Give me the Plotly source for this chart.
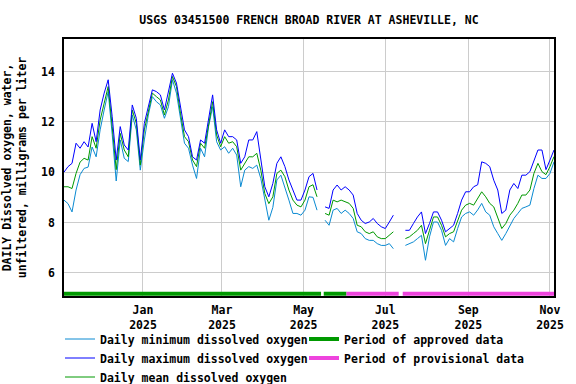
import plotly.graph_objects as go
import pandas as pd

# ---- data (every 3rd day) ----
dates = pd.date_range("2024-11-03", periods=123, freq="3D")

do_max = [10.0, 10.22, 10.35, 11.15, 10.95, 11.21, 11.0, 11.94, 11.21, 12.47,
          13.14, 13.67, 12.2, 10.48, 11.81, 11.08, 10.88, 12.67, 12.14, 10.48,
          11.94, 12.67, 13.27, 13.2, 13.07, 12.47, 13.14, 13.93, 13.54, 12.6,
          11.68, 11.41, 10.61, 10.48, 11.28, 11.15, 12.2, 13.07, 11.68, 11.15,
          11.68, 11.41, 11.41, 11.28, 10.35, 10.61, 11.28, 11.28, 11.61, 10.61,
          9.42, 9.02, 9.55, 10.35, 10.61, 10.22, 9.69, 9.29, 8.89, 8.89,
          9.29, 9.82, 9.95, 9.29, None, 8.62, 8.56, 9.29, 9.49, 9.29,
          9.42, 9.29, 9.09, 8.36, 8.09, 7.96, 8.02, 8.16, 7.96, 7.83,
          7.76, 8.02, 8.29, None, None, 7.69, 7.69, 7.96, 8.22, 8.42,
          7.56, 7.96, 8.42, 8.42, 8.09, 7.63, 7.76, 7.89, 8.36, 8.89,
          9.22, 9.22, 9.42, 9.5, 10.41, 10.35, 10.22, 9.68, 9.29, 8.36,
          8.49, 9.29, 9.55, 9.35, 9.88, 9.88, 10.02, 10.48, 10.88, 10.88,
          10.1, 10.48, 10.88]

do_mean = [9.42, 9.42, 9.35, 9.95, 10.4, 10.55, 10.48, 11.41, 10.95, 12.07,
           12.74, 13.4, 11.81, 10.1, 11.54, 10.88, 10.61, 12.47, 11.94, 10.28,
           11.68, 12.47, 13.14, 13.0, 12.87, 12.27, 12.87, 13.8, 13.4, 12.34,
           11.41, 11.21, 10.48, 10.22, 11.15, 10.95, 11.94, 12.8, 11.48, 11.01,
           11.41, 11.15, 11.21, 11.01, 10.08, 10.35, 10.61, 10.61, 10.75, 10.08,
           9.15, 8.75, 9.02, 9.95, 10.08, 9.82, 9.29, 8.89, 8.69, 8.62,
           8.89, 9.42, 9.5, 9.02, None, 8.36, 8.29, 8.89, 8.82, 8.89,
           8.82, 8.76, 8.56, 7.89, 7.83, 7.63, 7.56, 7.63, 7.43, 7.36,
           7.36, 7.49, 7.63, None, None, 7.36, 7.43, 7.56, 7.69, 7.89,
           7.16, 7.69, 8.22, 8.22, 7.89, 7.43, 7.56, 7.63, 8.09, 8.49,
           8.69, 8.76, 8.69, 8.95, 9.22, 9.02, 8.76, 8.62, 8.22, 7.76,
           7.96, 8.29, 8.49, 8.76, 9.09, 9.09, 9.29, 9.95, 10.35, 10.02,
           9.9, 10.22, 10.62]

do_min = [8.89, 8.75, 8.42, 9.29, 9.9, 10.15, 10.2, 11.0, 10.61, 11.68,
          12.47, 13.2, 11.5, 9.65, 11.28, 10.55, 10.42, 12.27, 11.68, 10.08,
          11.28, 12.27, 13.0, 12.8, 12.67, 12.14, 12.6, 13.67, 13.14, 12.07,
          11.15, 10.95, 10.28, 9.75, 10.95, 10.61, 11.81, 12.6, 11.21, 10.88,
          11.01, 10.75, 10.95, 10.68, 9.42, 10.08, 10.22, 10.15, 10.28, 9.75,
          8.89, 8.09, 8.6, 9.69, 9.88, 9.42, 8.89, 8.36, 8.36, 8.29,
          8.49, 9.02, 9.0, 8.49, None, 8.09, 7.89, 8.49, 8.56, 8.36,
          8.49, 8.36, 8.16, 7.63, 7.56, 7.36, 7.29, 7.29, 7.16, 7.09,
          7.09, 7.16, 6.96, None, None, 7.09, 7.16, 7.23, 7.36, 7.49,
          6.5, 7.43, 8.02, 8.02, 7.69, 7.09, 7.36, 7.23, 7.76, 8.22,
          8.36, 8.42, 8.29, 8.5, 8.76, 8.42, 8.29, 7.83, 7.56, 7.29,
          7.56, 7.89, 8.16, 8.36, 8.56, 8.62, 8.69, 9.35, 9.88, 9.75,
          9.75, 9.95, 10.41]

approved_dates = ["2024-11-03", "2025-05-14", None, "2025-05-16", "2025-06-02"]
provisional_dates = ["2025-06-02", "2025-07-11", None, "2025-07-14", "2025-11-04"]

tick_dates = ["2025-01-01", "2025-03-01", "2025-05-01", "2025-07-01",
              "2025-09-01", "2025-11-01"]
tick_text = ["Jan<br>2025", "Mar<br>2025", "May<br>2025", "Jul<br>2025",
             "Sep<br>2025", "Nov<br>2025"]
y_ticks = [6, 8, 10, 12, 14]

# ---- styling ----
FONT = "DejaVu Sans Mono"
FS = 11.5
C_MIN = "#0a8ad2"
C_MAX = "#0000ff"
C_MEAN = "#009900"
C_APP = "#009900"
C_PROV = "#ee44dd"
BAR_Y = 5.17
LFONT = dict(family=FONT, size=FS, color="black", weight="bold")

fig = go.Figure()

fig.add_trace(go.Scatter(x=approved_dates, y=[BAR_Y if d else None for d in approved_dates],
                         mode="lines", line=dict(color=C_APP, width=4),
                         name="Period of approved data", legend="legend2", legendrank=1))
fig.add_trace(go.Scatter(x=provisional_dates, y=[BAR_Y if d else None for d in provisional_dates],
                         mode="lines", line=dict(color=C_PROV, width=4),
                         name="Period of provisional data", legend="legend2", legendrank=2))
fig.add_trace(go.Scatter(x=dates, y=do_min, mode="lines",
                         line=dict(color=C_MIN, width=1),
                         name="Daily minimum dissolved oxygen", legendrank=1))
fig.add_trace(go.Scatter(x=dates, y=do_mean, mode="lines",
                         line=dict(color=C_MEAN, width=1),
                         name="Daily mean dissolved oxygen", legendrank=3))
fig.add_trace(go.Scatter(x=dates, y=do_max, mode="lines",
                         line=dict(color=C_MAX, width=1),
                         name="Daily maximum dissolved oxygen", legendrank=2))

fig.update_layout(
    width=576, height=384,
    margin=dict(l=64, r=22, t=39, b=88, autoexpand=False),
    paper_bgcolor="white", plot_bgcolor="white",
    font=dict(family=FONT, size=FS, color="black", weight="bold"),
    title=dict(text="USGS 03451500 FRENCH BROAD RIVER AT ASHEVILLE, NC",
               x=0.5, xref="paper", xanchor="center",
               y=1 - 20 / 384, yref="container", yanchor="middle",
               font=LFONT),
    showlegend=True,
    legend=dict(orientation="v", x=(60 - 64) / 490, xanchor="left", xref="paper",
                y=1 - 324.5 / 384, yanchor="top", yref="container",
                font=LFONT, bgcolor="rgba(0,0,0,0)", borderwidth=0,
                traceorder="normal", itemclick=False),
    legend2=dict(orientation="v", x=(304 - 64) / 490, xanchor="left", xref="paper",
                 y=1 - 324.5 / 384, yanchor="top", yref="container",
                 font=LFONT, bgcolor="rgba(0,0,0,0)", borderwidth=0,
                 traceorder="normal", itemclick=False),
    xaxis=dict(type="date", range=["2024-11-03", "2025-11-04"],
               tickvals=tick_dates, ticktext=tick_text, tickangle=0,
               showgrid=True, gridcolor="#cccccc", gridwidth=1,
               showline=True, linecolor="black", linewidth=1.5, mirror=True,
               ticks="", ticklabelstandoff=2,
               tickfont=LFONT, zeroline=False, automargin=False),
    yaxis=dict(range=[5.08, 15.29], tickvals=y_ticks,
               showgrid=True, gridcolor="#cccccc", gridwidth=1,
               showline=True, linecolor="black", linewidth=1.5, mirror=True,
               ticks="", ticklabelstandoff=5,
               tickfont=LFONT, zeroline=False, automargin=False,
               title=dict(text="DAILY Dissolved oxygen, water,<br>unfiltered, milligrams per liter",
                          standoff=12, font=LFONT)),
)

fig.write_html("out.html", config={"displayModeBar": False},
               post_script="document.body.style.margin='0px';")
